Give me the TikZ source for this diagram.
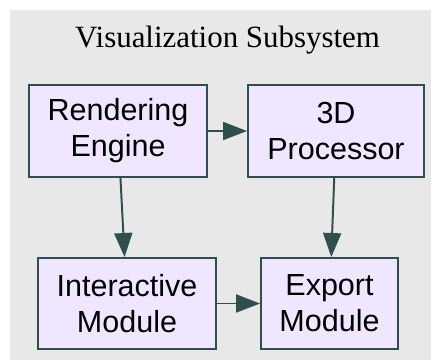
\documentclass[tikz,border=0pt]{standalone}
\usepackage{fontspec}
\setmainfont{Liberation Serif}
\newfontfamily\modfont{Liberation Sans}
\usetikzlibrary{arrows.meta}

\definecolor{panelgray}{HTML}{E8E8E8}
\definecolor{modfill}{HTML}{F0E6FF}
\definecolor{slate}{HTML}{2F4F4F}

\begin{document}
\begin{tikzpicture}[
        module/.style={draw=slate, line width=1.4pt, fill=modfill, align=center,
                       minimum height=2.3cm, inner sep=0pt,
                       font=\modfont\fontsize{21.7}{25.6}\selectfont},
        link/.style={draw=slate, line width=1.4pt,
                     -{Triangle[length=0.6cm,width=0.45cm]}}
    ]
        % Page size and grey panel
        \useasboundingbox (0,0) rectangle (10.775,9);
        \fill[panelgray] (0.25,0) rectangle (10.775,8.75);

        % Title
        \node[anchor=base, font=\fontsize{22}{26}\selectfont] (title) at (5.69,7.8) {Visualization Subsystem};

        % Modules
        \node[module, minimum width=4.45cm] (render) at (2.95,5.725) {Rendering\\Engine};
        \node[module, minimum width=4.4cm] (proc) at (8.4,5.725) {3D\\Processor};
        \node[module, minimum width=4.45cm, minimum height=2.275cm] (inter) at (3.175,1.4125) {Interactive\\Module};
        \node[module, minimum width=3.425cm, minimum height=2.275cm] (export) at (8.2375,1.4125) {Export\\Module};

        % Data flow
        \draw[link] (render) -- (proc);
        \draw[link] (render) -- (inter);
        \draw[link] (proc) -- (export);
        \draw[link] (inter) -- (export);
    \end{tikzpicture}
\end{document}
